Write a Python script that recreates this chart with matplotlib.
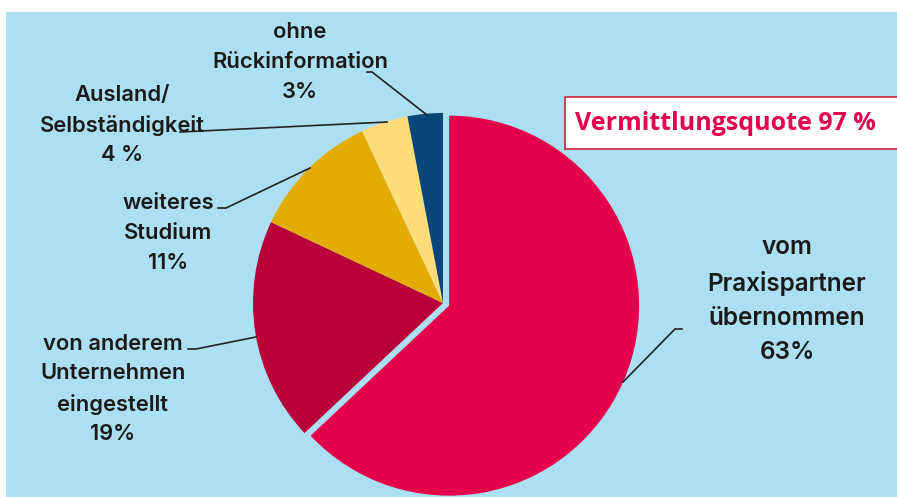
import matplotlib.pyplot as plt
from matplotlib.patches import Rectangle

# data
labels = ["vom\nPraxispartner\nübernommen\n63%",
          "von anderem\nUnternehmen\neingestellt\n19%",
          "weiteres\nStudium\n11%",
          "Ausland/\nSelbständigkeit\n4 %",
          "ohne\nRückinformation\n3%"]
values = [63, 19, 11, 4, 3]
colors = ["#E4004B", "#B8003A", "#E2AC00", "#FEDC78", "#0A4677"]
quote = "Vermittlungsquote 97 %"

W, H = 897, 497
cx, cy, r = 443, 303, 190
bg = "#ADDFF3"

fig = plt.figure(figsize=(W / 100, H / 100), dpi=100, facecolor="white")
fig.patches.append(Rectangle((6 / W, 0), 1 - 6 / W, (H - 12) / H,
                             transform=fig.transFigure, facecolor=bg,
                             edgecolor="none", zorder=-10))

half = 200
ax = fig.add_axes([(cx - half) / W, (H - cy - half) / H, 2 * half / W, 2 * half / H])
ax.axis("off")
ax.patch.set_alpha(0)

ax.pie(values, colors=colors, startangle=90, counterclock=False,
       explode=[0.035, 0, 0, 0, 0], radius=1.0,
       wedgeprops=dict(linewidth=0))
ax.set_aspect("auto")
ax.set_xlim(-half / r, half / r)
ax.set_ylim(-half / r, half / r)


def pt(px, py):
    return ((px - cx) / r, (cy - py) / r)


font = "Inter"
tc = "#1a1a1a"

# label positions (px) and leader lines (px)
label_pos = [(787, 300), (113, 389), (168, 233), (122, 125), (300, 62)]
line_pts = [
    [(682, 329), (675, 329), (623, 382)],
    [(188, 349), (196, 349), (256, 337)],
    [(218, 208), (226, 208), (310, 168)],
    [(180, 132), (387, 122)],
    [(367, 72), (372, 72), (427, 115)],
]
sizes = [17.5, 15.8, 15.8, 15.8, 15.8]
spacing = [1.6, 1.6, 1.6, 1.6, 1.6]

for lab, pos, pts, fs, ls in zip(labels, label_pos, line_pts, sizes, spacing):
    x, y = pt(*pos)
    ax.text(x, y, lab, ha="center", va="center", fontsize=fs, color=tc,
            family=font, weight=600, linespacing=ls, clip_on=False)
    xs = [pt(*p)[0] for p in pts]
    ys = [pt(*p)[1] for p in pts]
    ax.plot(xs, ys, color="#222222", lw=1.2, clip_on=False)

# quote box
fig.patches.append(Rectangle((565 / W, (H - 149) / H), (W - 563) / W, 52 / H,
                             transform=fig.transFigure, facecolor="white",
                             edgecolor="#D0203A", linewidth=1.2, zorder=3))
fig.text(575 / W, (H - 124) / H, quote, ha="left", va="center", fontsize=18,
         color="#E4004B", weight="bold", family="Open Sans", zorder=4)

fig.savefig("out.png", dpi=100, facecolor="white")
